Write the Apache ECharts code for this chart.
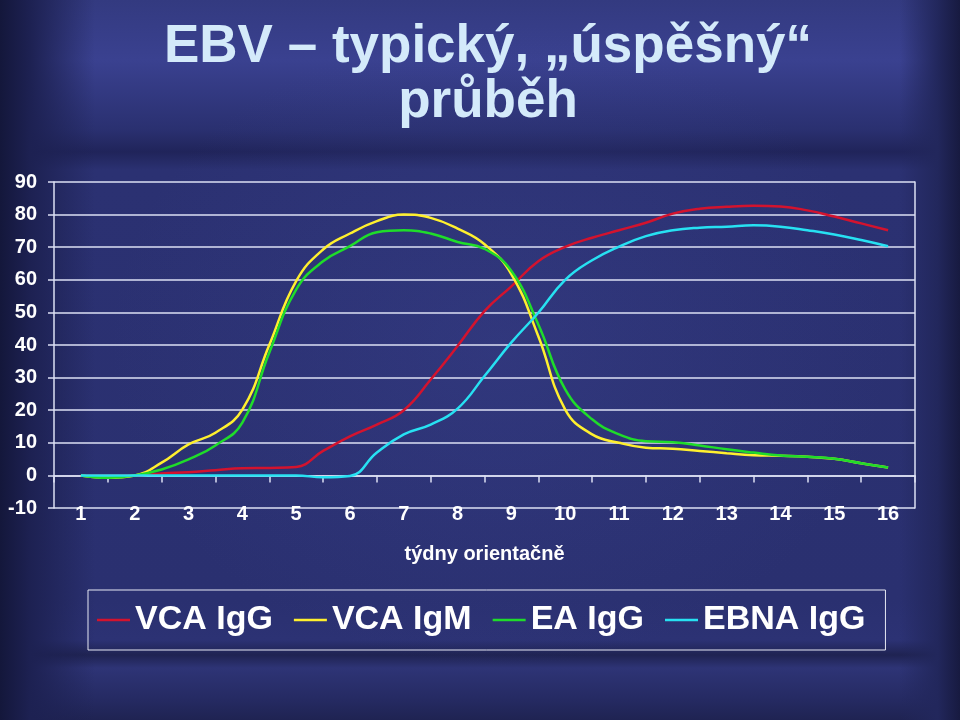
<!DOCTYPE html>
<html>
<head>
<meta charset="utf-8">
<script src="https://cdn.jsdelivr.net/npm/echarts@6/dist/echarts.min.js"></script>
<style>
html, body { margin: 0; padding: 0; }
body {
  width: 960px; height: 720px; overflow: hidden;
  background:
    radial-gradient(ellipse 520px 430px at 52% 48%, rgba(62,70,150,0.32), rgba(0,0,0,0) 75%),
    linear-gradient(90deg, #14173b 0px, #1d2152 30px, rgba(30,35,86,0) 95px),
    linear-gradient(270deg, #171a40 0px, #22275c 22px, rgba(35,40,94,0) 60px),
    linear-gradient(180deg, #333a80 0px, #3a4190 60px, #2a3070 130px, #20245a 152px, #2b3172 170px, #2a3070 600px, #2c3274 640px, #1f2352 655px, #2e3476 668px, #252a62 700px, #1f2352 720px);
}
#chart { width: 960px; height: 720px; }
</style>
</head>
<body>
<div id="chart"></div>
<script>
// ---- data ----
const weeks = [1, 1.5, 2, 2.5, 3, 3.5, 4, 4.5, 5, 5.5, 6, 6.5, 7, 7.5, 8, 8.5, 9, 9.5, 10, 10.5, 11, 11.5, 12, 12.5, 13, 13.5, 14, 14.5, 15, 15.5, 16];
const weekLabels = ['1','2','3','4','5','6','7','8','9','10','11','12','13','14','15','16'];
const seriesNames = ['VCA IgG', 'VCA IgM', 'EA IgG', 'EBNA IgG'];
const vcaIgG  = [0, 0, 0, 0.6, 1, 1.6, 2.2, 2.3, 2.6, 7.5, 12, 15.6, 20, 29.4, 39.7, 50.4, 58, 65.7, 70.1, 72.9, 75.2, 77.5, 80.3, 81.8, 82.4, 82.7, 82.5, 81.3, 79.4, 77.3, 75.2];
const vcaIgM  = [0, -0.7, 0, 3.9, 9.5, 13.1, 20.2, 40, 59.6, 69.3, 74.2, 78, 80, 79, 75.7, 70.9, 61.7, 42.7, 20.2, 12.6, 10, 8.5, 8.2, 7.5, 6.8, 6.2, 6.0, 5.7, 5.1, 3.7, 2.4];
const eaIgG   = [0, -0.7, 0, 1.8, 4.9, 9.2, 16.2, 37.6, 57, 65.7, 70.3, 74.6, 75.2, 74.2, 71.6, 69.5, 62.7, 46.3, 26.4, 17.2, 12.6, 10.5, 10.2, 9.2, 8, 7, 6.1, 5.7, 5.1, 3.7, 2.4];
const ebnaIgG = [0, 0, 0, 0, 0, 0, 0, 0, 0, -0.6, -0.2, 7, 12.6, 15.6, 20.5, 30.5, 40.8, 49.9, 60, 66, 70.2, 73.4, 75.2, 76, 76.3, 76.7, 76.3, 75.2, 73.9, 72.2, 70.3];
const yMin = -10, yMax = 90, yStep = 10;

// ---- styles ----
const colors = ['#d3132e', '#fff02e', '#1fdc2a', '#27e1f2'];
const FONT = '"Liberation Sans", Arial, sans-serif';
const gridColor = '#dde0f4';

function pairs(vals) { return weeks.map((w, i) => [w, vals[i]]); }

const allValues = [vcaIgG, vcaIgM, eaIgG, ebnaIgG];

const chart = echarts.init(document.getElementById('chart'), null, { renderer: 'canvas' });
chart.setOption({
  backgroundColor: 'transparent',
  animation: false,
  title: {
    text: 'EBV – typický, „úspěšný“\nprůběh',
    left: 488, top: 20, padding: 0,
    textAlign: 'center',
    textStyle: { fontFamily: FONT, fontSize: 53, fontWeight: 'bold', color: '#d4eafa', lineHeight: 55 }
  },
  legend: {
    left: 88, top: 590,
    padding: [10, 20, 10, 9],
    borderColor: '#e6e8f4', borderWidth: 1,
    itemGap: 21, itemWidth: 33, itemHeight: 2.5,
    icon: 'rect',
    data: seriesNames,
    textStyle: { fontFamily: FONT, fontSize: 34, fontWeight: 'bold', color: '#ffffff', lineHeight: 40 }
  },
  grid: { left: 54, right: 45, top: 182, bottom: 212, outerBoundsMode: 'none' },
  xAxis: [
    { type: 'value', min: 0.5, max: 16.5, show: false, axisLine: { onZero: false } },
    {
      type: 'category', data: weekLabels, boundaryGap: true, position: 'bottom',
      axisLine: { show: true, onZero: true, lineStyle: { color: gridColor, width: 1.5 } },
      axisTick: { show: true, length: 7, lineStyle: { color: gridColor, width: 1.5 } },
      axisLabel: { margin: -4, color: '#ffffff', fontFamily: FONT, fontSize: 20, fontWeight: 'bold' },
      splitLine: { show: false },
      name: 'týdny orientačně', nameLocation: 'middle', nameGap: 36,
      nameTextStyle: { color: '#ffffff', fontFamily: FONT, fontSize: 20, fontWeight: 'bold' }
    }
  ],
  yAxis: [
    {
      type: 'value', min: yMin, max: yMax, interval: yStep,
      axisLine: { show: true, onZero: false, lineStyle: { color: gridColor, width: 1.5 } },
      axisTick: { show: true, length: 6, lineStyle: { color: gridColor, width: 1.5 } },
      axisLabel: { margin: 17, color: '#ffffff', fontFamily: FONT, fontSize: 20, fontWeight: 'bold' },
      splitLine: { show: true, lineStyle: { color: gridColor, width: 1.5 } }
    },
    {
      type: 'value', min: yMin, max: yMax, interval: yStep, position: 'right',
      axisLine: { show: true, onZero: false, lineStyle: { color: gridColor, width: 1.5 } },
      axisTick: { show: false }, axisLabel: { show: false }, splitLine: { show: false }
    }
  ],
  series: seriesNames.map((name, i) => ({
    name: name,
    type: 'line',
    xAxisIndex: 0, yAxisIndex: 0,
    data: pairs(allValues[i]),
    smooth: 0.45,
    symbol: 'none', showSymbol: false,
    lineStyle: { color: colors[i], width: 2.5 },
    itemStyle: { color: colors[i] },
    z: 2 + i
  }))
});
</script>
</body>
</html>
